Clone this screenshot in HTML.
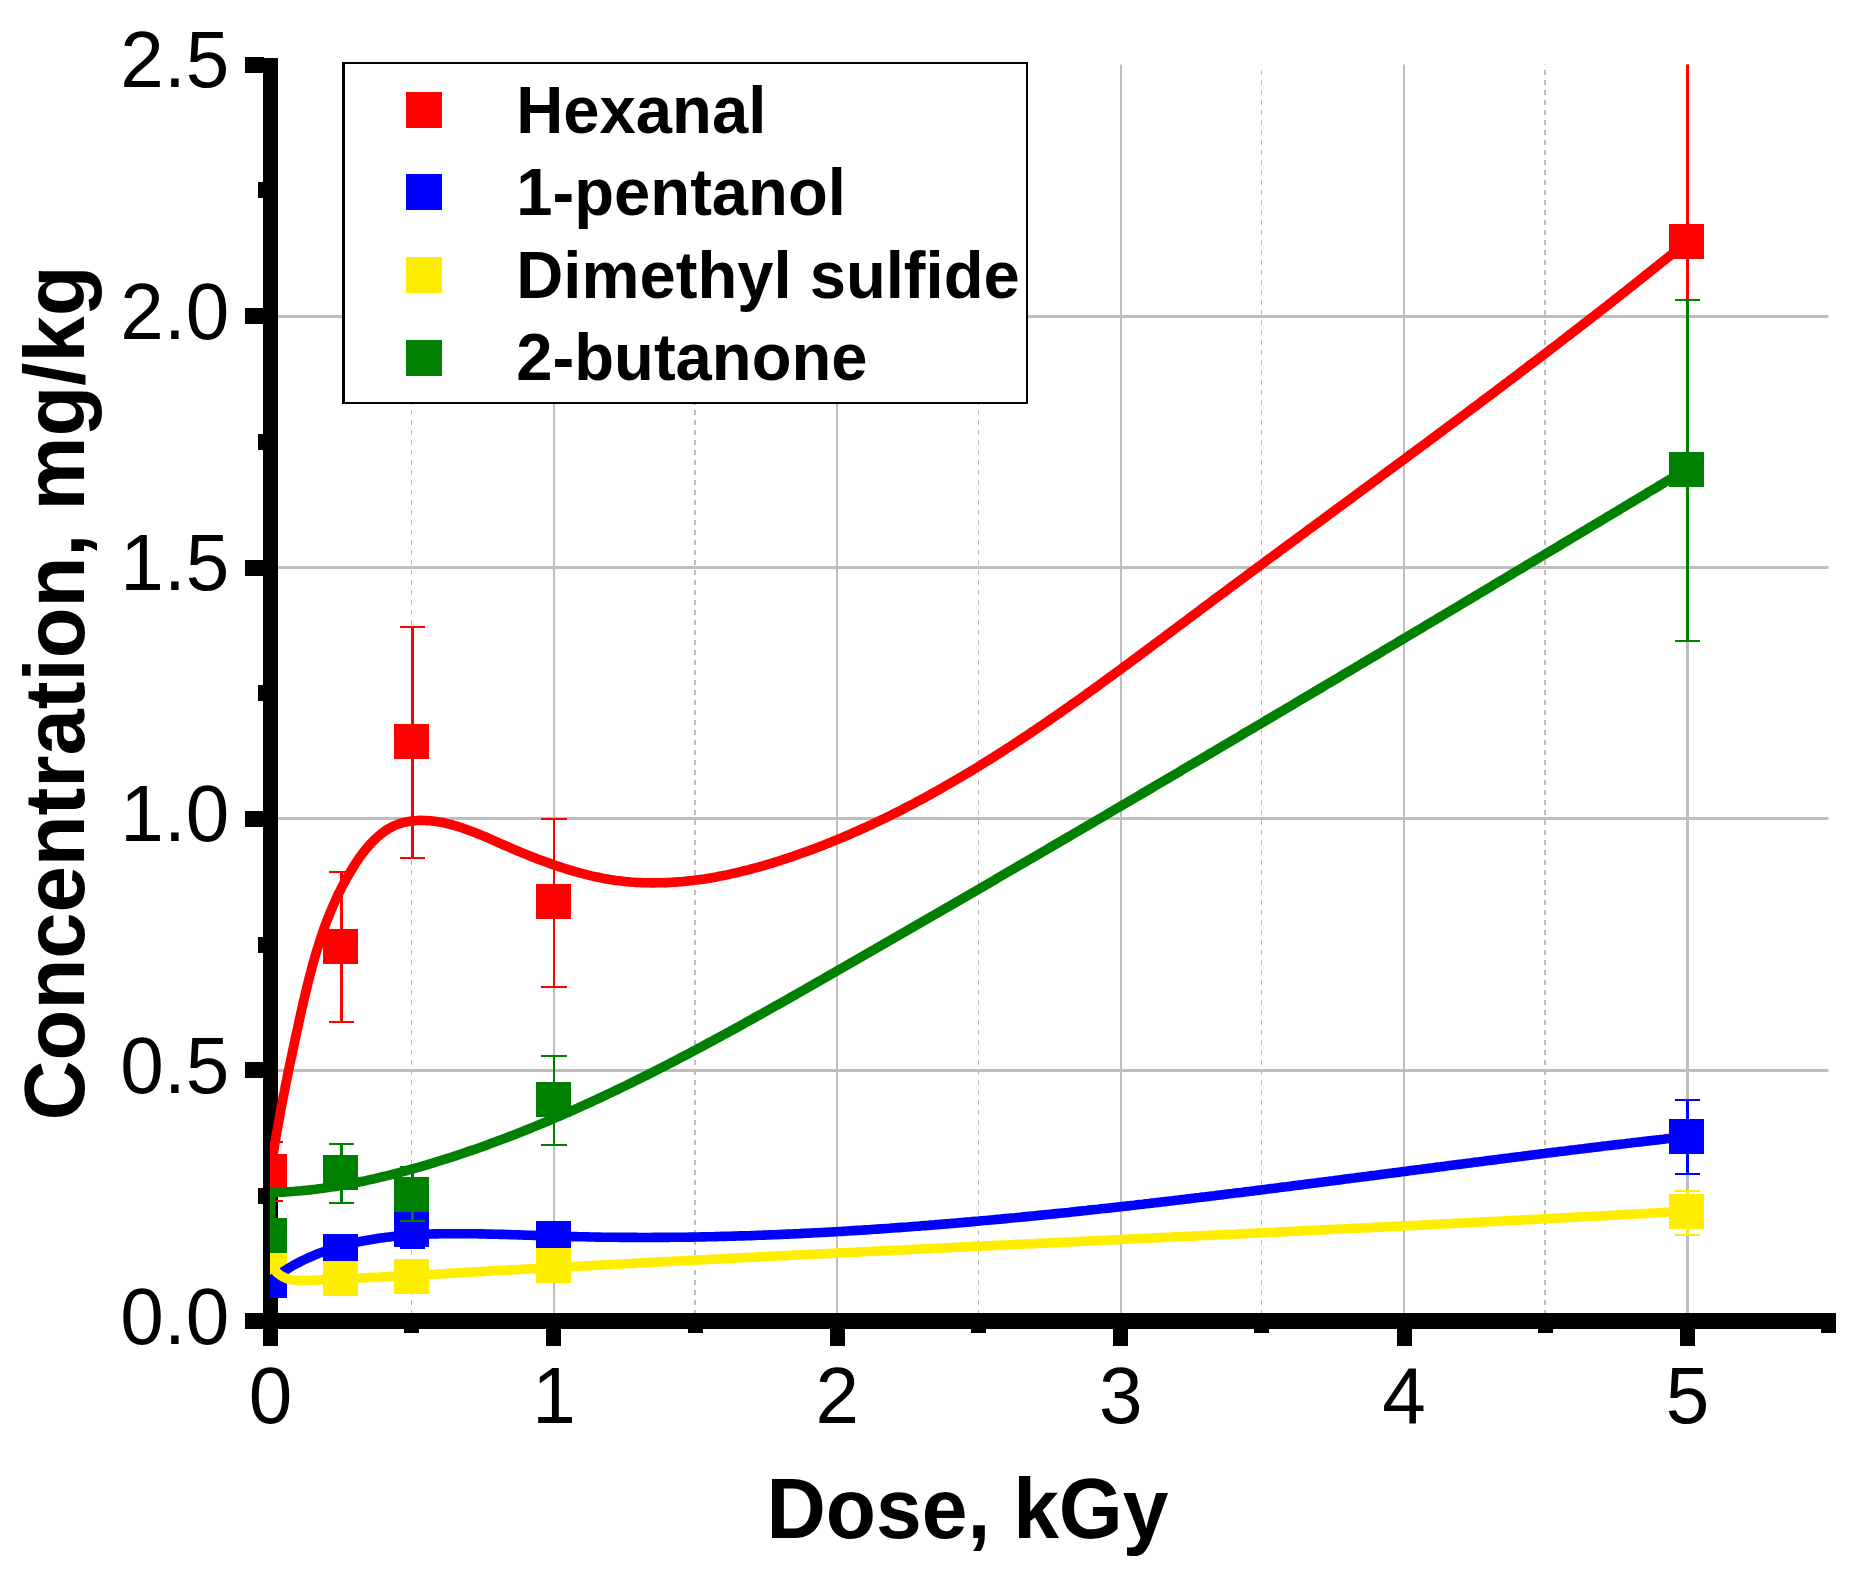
<!DOCTYPE html>
<html><head><meta charset="utf-8"><title>Concentration vs Dose</title>
<style>html,body{margin:0;padding:0;background:#fff;}body{width:1866px;height:1586px;overflow:hidden;}svg{display:block;}</style>
</head><body>
<svg width="1866" height="1586" viewBox="0 0 1866 1586">
<rect width="1866" height="1586" fill="#fff"/>
<defs><clipPath id="plot"><rect x="270" y="64.5" width="1566" height="1262"/></clipPath><clipPath id="gridclip"><rect x="270" y="64.5" width="1558.5" height="1250"/></clipPath></defs>
<g clip-path="url(#gridclip)" fill="#bebebe" shape-rendering="crispEdges">
<rect x="270" y="1068.7" width="1558.5" height="3"/>
<rect x="270" y="817.3" width="1558.5" height="3"/>
<rect x="270" y="566.0" width="1558.5" height="3"/>
<rect x="270" y="314.6" width="1558.5" height="3"/>
<rect x="552.8" y="64" width="2.2" height="1250"/>
<rect x="836.2" y="64" width="2.2" height="1250"/>
<rect x="1119.6" y="64" width="2.2" height="1250"/>
<rect x="1403.0" y="64" width="2.2" height="1250"/>
<rect x="1686.4" y="64" width="2.2" height="1250"/>
</g>
<g clip-path="url(#gridclip)" stroke="#bebebe" shape-rendering="crispEdges" fill="none">
<line x1="411.5" x2="411.5" y1="60" y2="1314" stroke-width="1" stroke-dasharray="5 5"/>
<line x1="695" x2="695" y1="60" y2="1314" stroke-width="2" stroke-dasharray="5 5"/>
<line x1="978.5" x2="978.5" y1="60" y2="1314" stroke-width="1" stroke-dasharray="5 5"/>
<line x1="1261.5" x2="1261.5" y1="60" y2="1314" stroke-width="1" stroke-dasharray="5 5"/>
<line x1="1545" x2="1545" y1="60" y2="1314" stroke-width="2" stroke-dasharray="5 5"/>
</g>
<g fill="#000" shape-rendering="crispEdges">
<rect x="263" y="58" width="15" height="1271"/>
<rect x="245" y="1313" width="1591" height="15.8"/>
<rect x="245" y="1062.2" width="19" height="16"/>
<rect x="245" y="810.8" width="19" height="16"/>
<rect x="245" y="559.5" width="19" height="16"/>
<rect x="245" y="308.1" width="19" height="16"/>
<rect x="245" y="56.8" width="19" height="16"/>
<rect x="258" y="1187.8" width="6" height="16"/>
<rect x="258" y="936.5" width="6" height="16"/>
<rect x="258" y="685.1" width="6" height="16"/>
<rect x="258" y="433.8" width="6" height="16"/>
<rect x="258" y="182.4" width="6" height="16"/>
<rect x="263.0" y="1328" width="15" height="17.7"/>
<rect x="546.4" y="1328" width="15" height="17.7"/>
<rect x="829.8" y="1328" width="15" height="17.7"/>
<rect x="1113.2" y="1328" width="15" height="17.7"/>
<rect x="1396.6" y="1328" width="15" height="17.7"/>
<rect x="1680.0" y="1328" width="15" height="17.7"/>
<rect x="404.2" y="1328" width="15" height="4.7"/>
<rect x="687.6" y="1328" width="15" height="4.7"/>
<rect x="971.0" y="1328" width="15" height="4.7"/>
<rect x="1254.4" y="1328" width="15" height="4.7"/>
<rect x="1537.8" y="1328" width="15" height="4.7"/>
<rect x="1821.0" y="1328" width="15" height="4.7"/>
</g>
<g clip-path="url(#plot)">
<g fill="#ff0000" stroke="none" shape-rendering="crispEdges">
<rect x="269.2" y="1142.2" width="2.6" height="58.8"/>
<rect x="257.8" y="1141.2" width="25.4" height="2"/>
<rect x="257.8" y="1200.0" width="25.4" height="2"/>
<rect x="340.1" y="872.0" width="2.6" height="150.0"/>
<rect x="328.7" y="871.0" width="25.4" height="2"/>
<rect x="328.7" y="1021.0" width="25.4" height="2"/>
<rect x="410.9" y="626.6" width="2.6" height="231.1"/>
<rect x="399.5" y="625.6" width="25.4" height="2"/>
<rect x="399.5" y="856.7" width="25.4" height="2"/>
<rect x="552.6" y="819.0" width="2.6" height="167.7"/>
<rect x="541.2" y="818.0" width="25.4" height="2"/>
<rect x="541.2" y="985.7" width="25.4" height="2"/>
<rect x="1686.2" y="20.0" width="2.6" height="460.0"/>
<rect x="1674.8" y="19.0" width="25.4" height="2"/>
<rect x="1674.8" y="479.0" width="25.4" height="2"/>
<rect x="252.2" y="1154.0" width="35.0" height="35.0"/>
<rect x="323.1" y="928.9" width="35.0" height="35.0"/>
<rect x="393.9" y="723.7" width="35.0" height="35.0"/>
<rect x="535.6" y="884.3" width="35.0" height="35.0"/>
<rect x="1669.2" y="224.3" width="35.0" height="35.0"/>
</g>
<g fill="#0000ff" stroke="none" shape-rendering="crispEdges">
<rect x="410.9" y="1211.0" width="2.6" height="37.3"/>
<rect x="399.5" y="1210.0" width="25.4" height="2"/>
<rect x="399.5" y="1247.3" width="25.4" height="2"/>
<rect x="1686.2" y="1100.0" width="2.6" height="74.0"/>
<rect x="1674.8" y="1099.0" width="25.4" height="2"/>
<rect x="1674.8" y="1173.0" width="25.4" height="2"/>
<rect x="252.2" y="1263.2" width="35.0" height="35.0"/>
<rect x="323.1" y="1233.5" width="35.0" height="35.0"/>
<rect x="393.9" y="1212.0" width="35.0" height="35.0"/>
<rect x="535.6" y="1220.9" width="35.0" height="35.0"/>
<rect x="1669.2" y="1119.0" width="35.0" height="35.0"/>
</g>
<g fill="#ffee00" stroke="none" shape-rendering="crispEdges">
<rect x="1686.2" y="1190.8" width="2.6" height="44.2"/>
<rect x="1674.8" y="1189.8" width="25.4" height="2"/>
<rect x="1674.8" y="1234.0" width="25.4" height="2"/>
<rect x="252.2" y="1240.8" width="35.0" height="35.0"/>
<rect x="323.1" y="1260.8" width="35.0" height="35.0"/>
<rect x="393.9" y="1258.5" width="35.0" height="35.0"/>
<rect x="535.6" y="1247.5" width="35.0" height="35.0"/>
<rect x="1669.2" y="1193.7" width="35.0" height="35.0"/>
</g>
<g fill="#008000" stroke="none" shape-rendering="crispEdges">
<rect x="340.1" y="1144.3" width="2.6" height="59.0"/>
<rect x="328.7" y="1143.3" width="25.4" height="2"/>
<rect x="328.7" y="1202.3" width="25.4" height="2"/>
<rect x="410.9" y="1167.0" width="2.6" height="53.8"/>
<rect x="399.5" y="1166.0" width="25.4" height="2"/>
<rect x="399.5" y="1219.8" width="25.4" height="2"/>
<rect x="552.6" y="1056.0" width="2.6" height="88.7"/>
<rect x="541.2" y="1055.0" width="25.4" height="2"/>
<rect x="541.2" y="1143.7" width="25.4" height="2"/>
<rect x="1686.2" y="299.5" width="2.6" height="341.3"/>
<rect x="1674.8" y="298.5" width="25.4" height="2"/>
<rect x="1674.8" y="639.8" width="25.4" height="2"/>
<rect x="252.2" y="1218.3" width="35.0" height="35.0"/>
<rect x="323.1" y="1155.2" width="35.0" height="35.0"/>
<rect x="393.9" y="1176.5" width="35.0" height="35.0"/>
<rect x="535.6" y="1082.3" width="35.0" height="35.0"/>
<rect x="1669.2" y="451.5" width="35.0" height="35.0"/>
</g>
<path d="M270.5,1171.5 L270.9,1168.5 L271.4,1165.6 L271.8,1162.6 L272.3,1159.7 L272.7,1156.7 L273.2,1153.8 L273.7,1150.8 L274.2,1147.8 L274.6,1144.9 L275.1,1141.9 L275.6,1139.0 L276.1,1136.0 L276.6,1133.1 L277.2,1130.1 L277.7,1127.2 L278.2,1124.3 L278.7,1121.3 L279.3,1118.4 L279.8,1115.4 L280.3,1112.5 L280.9,1109.5 L281.4,1106.6 L282.0,1103.6 L282.6,1100.7 L283.1,1097.8 L283.7,1094.8 L284.3,1091.9 L284.9,1088.9 L285.4,1086.0 L286.0,1083.1 L286.6,1080.1 L287.2,1077.2 L287.8,1074.3 L288.4,1071.3 L289.0,1068.4 L289.6,1065.5 L290.2,1062.5 L290.8,1059.6 L291.5,1056.7 L292.1,1053.7 L292.7,1050.8 L293.3,1047.9 L294.0,1044.9 L294.6,1042.0 L295.2,1039.1 L295.8,1036.2 L296.5,1033.2 L297.1,1030.3 L297.8,1027.4 L298.4,1024.4 L299.0,1021.5 L299.7,1018.6 L300.3,1015.7 L301.0,1012.7 L301.6,1009.8 L302.3,1006.9 L303.0,1004.0 L303.6,1001.1 L304.3,998.1 L305.0,995.2 L305.7,992.3 L306.4,989.4 L307.1,986.5 L307.8,983.6 L308.5,980.7 L309.3,977.8 L310.0,974.9 L310.8,972.0 L311.5,969.1 L312.3,966.2 L313.1,963.3 L313.9,960.5 L314.7,957.6 L315.6,954.7 L316.4,951.9 L317.3,949.0 L318.2,946.1 L319.1,943.3 L320.0,940.5 L320.9,937.6 L321.9,934.8 L322.8,932.0 L323.8,929.1 L324.8,926.3 L325.9,923.5 L326.9,920.7 L328.0,917.9 L329.1,915.2 L330.3,912.4 L331.4,909.6 L332.6,906.9 L333.8,904.1 L335.0,901.4 L336.3,898.6 L337.5,895.9 L338.8,893.2 L340.2,890.5 L341.5,887.8 L342.9,885.1 L344.4,882.4 L345.8,879.7 L347.3,877.1 L348.8,874.4 L350.4,871.8 L352.0,869.2 L353.6,866.5 L355.2,863.9 L356.9,861.4 L358.6,858.8 L360.4,856.3 L362.2,853.8 L364.1,851.4 L365.9,849.1 L367.9,846.7 L369.9,844.5 L371.9,842.3 L374.0,840.2 L376.1,838.2 L378.3,836.2 L380.5,834.4 L382.8,832.6 L385.1,830.9 L387.5,829.4 L390.0,827.9 L392.5,826.6 L395.1,825.4 L397.7,824.3 L400.4,823.4 L403.2,822.6 L406.0,821.9 L408.9,821.4 L411.8,821.0 L414.7,820.7 L417.7,820.5 L420.8,820.4 L423.8,820.5 L426.8,820.6 L429.9,820.8 L432.9,821.1 L436.0,821.5 L439.0,822.0 L442.0,822.5 L445.0,823.1 L447.9,823.8 L450.8,824.5 L453.7,825.3 L456.6,826.1 L459.4,827.0 L462.3,827.9 L465.1,828.9 L467.9,829.9 L470.7,830.9 L473.5,832.0 L476.3,833.1 L479.0,834.2 L481.8,835.4 L484.6,836.5 L487.3,837.7 L490.1,838.9 L492.8,840.1 L495.6,841.3 L498.3,842.6 L501.1,843.8 L503.9,845.0 L506.6,846.2 L509.4,847.4 L512.2,848.6 L515.0,849.8 L517.8,851.0 L520.6,852.1 L523.4,853.3 L526.2,854.4 L529.1,855.6 L531.9,856.7 L534.7,857.8 L537.6,858.9 L540.4,860.0 L543.3,861.1 L546.1,862.1 L549.0,863.1 L551.9,864.2 L554.7,865.2 L557.6,866.1 L560.5,867.1 L563.4,868.0 L566.3,869.0 L569.2,869.8 L572.1,870.7 L575.0,871.6 L577.9,872.4 L580.8,873.2 L583.7,873.9 L586.6,874.7 L589.5,875.4 L592.4,876.1 L595.3,876.7 L598.3,877.3 L601.2,877.9 L604.1,878.5 L607.1,879.0 L610.0,879.5 L612.9,879.9 L615.9,880.4 L618.8,880.7 L621.8,881.1 L624.7,881.4 L627.7,881.7 L630.6,882.0 L633.6,882.2 L636.5,882.4 L639.5,882.5 L642.4,882.7 L645.4,882.8 L648.3,882.8 L651.3,882.9 L654.2,882.9 L657.2,882.8 L660.2,882.8 L663.1,882.7 L666.1,882.6 L669.0,882.5 L672.0,882.3 L675.0,882.1 L677.9,881.9 L680.9,881.7 L683.8,881.4 L686.8,881.1 L689.7,880.8 L692.7,880.5 L695.6,880.1 L698.6,879.7 L701.5,879.3 L704.5,878.9 L707.4,878.4 L710.4,877.9 L713.3,877.4 L716.3,876.9 L719.2,876.3 L722.1,875.8 L725.1,875.2 L728.0,874.6 L730.9,873.9 L733.9,873.3 L736.8,872.6 L739.7,871.9 L742.6,871.2 L745.6,870.5 L748.5,869.8 L751.4,869.0 L754.3,868.2 L757.2,867.5 L760.1,866.6 L763.0,865.8 L765.9,865.0 L768.8,864.1 L771.6,863.3 L774.5,862.4 L777.4,861.5 L780.3,860.6 L783.1,859.6 L786.0,858.7 L788.8,857.7 L791.7,856.8 L794.5,855.8 L797.4,854.8 L800.2,853.8 L803.0,852.8 L805.9,851.8 L808.7,850.8 L811.5,849.7 L814.3,848.7 L817.1,847.6 L819.9,846.5 L822.7,845.5 L825.5,844.4 L828.3,843.3 L831.0,842.1 L833.8,841.0 L836.6,839.9 L839.3,838.7 L842.1,837.6 L844.9,836.4 L847.6,835.3 L850.3,834.1 L853.1,832.9 L855.8,831.7 L858.5,830.5 L861.3,829.2 L864.0,828.0 L866.7,826.8 L869.4,825.5 L872.1,824.3 L874.8,823.0 L877.5,821.7 L880.2,820.4 L882.9,819.2 L885.6,817.9 L888.2,816.5 L890.9,815.2 L893.6,813.9 L896.2,812.6 L898.9,811.2 L901.6,809.9 L904.2,808.5 L906.9,807.1 L909.5,805.8 L912.1,804.4 L914.8,803.0 L917.4,801.6 L920.0,800.2 L922.7,798.8 L925.3,797.4 L927.9,795.9 L930.5,794.5 L933.1,793.0 L935.7,791.6 L938.3,790.1 L940.9,788.7 L943.5,787.2 L946.1,785.7 L948.7,784.2 L951.3,782.7 L953.8,781.2 L956.4,779.7 L959.0,778.2 L961.6,776.7 L964.1,775.2 L966.7,773.6 L969.3,772.1 L971.8,770.6 L974.4,769.0 L976.9,767.5 L979.5,765.9 L982.0,764.3 L984.5,762.7 L987.1,761.2 L989.6,759.6 L992.1,758.0 L994.7,756.4 L997.2,754.8 L999.7,753.2 L1002.2,751.6 L1004.8,749.9 L1007.3,748.3 L1009.8,746.7 L1012.3,745.1 L1014.8,743.4 L1017.3,741.8 L1019.8,740.1 L1022.3,738.5 L1024.8,736.8 L1027.3,735.2 L1029.8,733.5 L1032.3,731.8 L1034.8,730.1 L1037.2,728.5 L1039.7,726.8 L1042.2,725.1 L1044.7,723.4 L1047.2,721.7 L1049.6,720.0 L1052.1,718.3 L1054.6,716.6 L1057.0,714.9 L1059.5,713.2 L1062.0,711.4 L1064.4,709.7 L1066.9,708.0 L1069.3,706.3 L1071.8,704.5 L1074.3,702.8 L1076.7,701.1 L1079.2,699.3 L1081.6,697.6 L1084.1,695.8 L1086.5,694.1 L1088.9,692.3 L1091.4,690.6 L1093.8,688.8 L1096.3,687.0 L1098.7,685.3 L1101.1,683.5 L1103.6,681.7 L1106.0,680.0 L1108.4,678.2 L1110.9,676.4 L1113.3,674.6 L1115.7,672.9 L1118.2,671.1 L1120.6,669.3 L1123.0,667.5 L1125.4,665.7 L1127.9,664.0 L1130.3,662.2 L1132.7,660.4 L1135.1,658.6 L1137.5,656.8 L1140.0,655.0 L1142.4,653.2 L1144.8,651.4 L1147.2,649.6 L1149.6,647.8 L1152.0,646.0 L1154.4,644.2 L1156.9,642.4 L1159.3,640.6 L1161.7,638.8 L1164.1,637.0 L1166.5,635.2 L1168.9,633.4 L1171.3,631.6 L1173.7,629.8 L1176.1,628.0 L1178.6,626.2 L1181.0,624.4 L1183.4,622.6 L1185.8,620.8 L1188.2,619.0 L1190.6,617.2 L1193.0,615.4 L1195.4,613.6 L1197.8,611.8 L1200.2,610.0 L1202.6,608.2 L1205.0,606.4 L1207.5,604.6 L1209.9,602.8 L1212.3,601.0 L1214.7,599.2 L1217.1,597.4 L1219.5,595.6 L1221.9,593.8 L1224.3,592.1 L1226.7,590.3 L1229.1,588.5 L1231.5,586.7 L1234.0,584.9 L1236.4,583.1 L1238.8,581.3 L1241.2,579.5 L1243.6,577.8 L1246.0,576.0 L1248.4,574.2 L1250.8,572.4 L1253.2,570.6 L1255.6,568.8 L1258.1,567.0 L1260.5,565.3 L1262.9,563.5 L1265.3,561.7 L1267.7,559.9 L1270.1,558.1 L1272.5,556.4 L1274.9,554.6 L1277.3,552.8 L1279.7,551.0 L1282.1,549.2 L1284.6,547.5 L1287.0,545.7 L1289.4,543.9 L1291.8,542.1 L1294.2,540.4 L1296.6,538.6 L1299.0,536.8 L1301.4,535.0 L1303.8,533.3 L1306.2,531.5 L1308.6,529.7 L1311.0,527.9 L1313.5,526.2 L1315.9,524.4 L1318.3,522.6 L1320.7,520.8 L1323.1,519.1 L1325.5,517.3 L1327.9,515.5 L1330.3,513.7 L1332.7,512.0 L1335.1,510.2 L1337.5,508.4 L1339.9,506.7 L1342.3,504.9 L1344.7,503.1 L1347.2,501.3 L1349.6,499.6 L1352.0,497.8 L1354.4,496.0 L1356.8,494.2 L1359.2,492.5 L1361.6,490.7 L1364.0,488.9 L1366.4,487.2 L1368.8,485.4 L1371.2,483.6 L1373.6,481.8 L1376.0,480.1 L1378.4,478.3 L1380.8,476.5 L1383.2,474.7 L1385.6,473.0 L1388.0,471.2 L1390.4,469.4 L1392.8,467.6 L1395.2,465.9 L1397.6,464.1 L1400.0,462.3 L1402.4,460.5 L1404.8,458.8 L1407.2,457.0 L1409.6,455.2 L1412.0,453.4 L1414.4,451.7 L1416.8,449.9 L1419.2,448.1 L1421.6,446.3 L1424.0,444.6 L1426.4,442.8 L1428.8,441.0 L1431.2,439.2 L1433.6,437.4 L1436.0,435.7 L1438.4,433.9 L1440.8,432.1 L1443.2,430.3 L1445.6,428.5 L1448.0,426.7 L1450.4,425.0 L1452.8,423.2 L1455.2,421.4 L1457.6,419.6 L1460.0,417.8 L1462.3,416.0 L1464.7,414.3 L1467.1,412.5 L1469.5,410.7 L1471.9,408.9 L1474.3,407.1 L1476.7,405.3 L1479.1,403.5 L1481.5,401.7 L1483.9,399.9 L1486.2,398.1 L1488.6,396.4 L1491.0,394.6 L1493.4,392.8 L1495.8,391.0 L1498.2,389.2 L1500.6,387.4 L1503.0,385.6 L1505.3,383.8 L1507.7,382.0 L1510.1,380.2 L1512.5,378.4 L1514.9,376.6 L1517.3,374.8 L1519.6,373.0 L1522.0,371.2 L1524.4,369.4 L1526.8,367.5 L1529.2,365.7 L1531.5,363.9 L1533.9,362.1 L1536.3,360.3 L1538.7,358.5 L1541.0,356.7 L1543.4,354.9 L1545.8,353.1 L1548.2,351.2 L1550.5,349.4 L1552.9,347.6 L1555.3,345.8 L1557.7,344.0 L1560.0,342.2 L1562.4,340.3 L1564.8,338.5 L1567.2,336.7 L1569.5,334.9 L1571.9,333.0 L1574.3,331.2 L1576.6,329.4 L1579.0,327.5 L1581.4,325.7 L1583.7,323.9 L1586.1,322.0 L1588.5,320.2 L1590.8,318.4 L1593.2,316.5 L1595.6,314.7 L1597.9,312.9 L1600.3,311.0 L1602.6,309.2 L1605.0,307.3 L1607.4,305.5 L1609.7,303.6 L1612.1,301.8 L1614.4,299.9 L1616.8,298.1 L1619.2,296.2 L1621.5,294.4 L1623.9,292.5 L1626.2,290.7 L1628.6,288.8 L1630.9,286.9 L1633.3,285.1 L1635.6,283.2 L1638.0,281.3 L1640.3,279.5 L1642.7,277.6 L1645.0,275.7 L1647.4,273.9 L1649.7,272.0 L1652.1,270.1 L1654.4,268.2 L1656.8,266.4 L1659.1,264.5 L1661.5,262.6 L1663.8,260.7 L1666.2,258.8 L1668.5,257.0 L1670.8,255.1 L1673.2,253.2 L1675.5,251.3 L1677.9,249.4 L1680.2,247.5 L1682.5,245.6 L1684.9,243.7 L1687.2,241.8" fill="none" stroke="#ff0000" stroke-width="9.6" stroke-linejoin="round" stroke-linecap="butt"/>
<path d="M270.5,1280.7 L272.9,1278.8 L275.4,1277.0 L277.9,1275.2 L280.4,1273.5 L282.9,1271.8 L285.4,1270.2 L288.0,1268.6 L290.6,1267.0 L293.1,1265.5 L295.8,1264.1 L298.4,1262.7 L301.0,1261.3 L303.7,1260.0 L306.4,1258.7 L309.1,1257.5 L311.8,1256.3 L314.5,1255.1 L317.3,1254.0 L320.0,1252.9 L322.8,1251.9 L325.6,1250.9 L328.4,1249.9 L331.2,1249.0 L334.0,1248.1 L336.8,1247.2 L339.7,1246.4 L342.5,1245.6 L345.4,1244.9 L348.3,1244.1 L351.2,1243.4 L354.1,1242.8 L357.0,1242.1 L359.9,1241.5 L362.8,1241.0 L365.7,1240.4 L368.7,1239.9 L371.6,1239.4 L374.5,1238.9 L377.5,1238.5 L380.5,1238.1 L383.4,1237.7 L386.4,1237.3 L389.4,1236.9 L392.3,1236.6 L395.3,1236.3 L398.3,1236.0 L401.3,1235.7 L404.3,1235.5 L407.3,1235.3 L410.3,1235.0 L413.3,1234.9 L416.3,1234.7 L419.3,1234.5 L422.3,1234.4 L425.3,1234.2 L428.3,1234.1 L431.3,1234.0 L434.3,1233.9 L437.3,1233.9 L440.3,1233.8 L443.4,1233.8 L446.4,1233.7 L449.4,1233.7 L452.4,1233.7 L455.4,1233.7 L458.4,1233.7 L461.4,1233.7 L464.5,1233.7 L467.5,1233.7 L470.5,1233.8 L473.5,1233.8 L476.5,1233.8 L479.5,1233.9 L482.5,1233.9 L485.5,1234.0 L488.5,1234.1 L491.6,1234.1 L494.6,1234.2 L497.6,1234.3 L500.6,1234.4 L503.6,1234.4 L506.6,1234.5 L509.6,1234.6 L512.6,1234.7 L515.6,1234.8 L518.6,1234.9 L521.6,1235.0 L524.6,1235.1 L527.6,1235.2 L530.6,1235.3 L533.6,1235.4 L536.6,1235.5 L539.6,1235.6 L542.6,1235.7 L545.6,1235.8 L548.6,1235.9 L551.5,1236.0 L554.5,1236.1 L557.5,1236.1 L560.5,1236.2 L563.5,1236.3 L566.5,1236.4 L569.5,1236.5 L572.5,1236.6 L575.5,1236.6 L578.5,1236.7 L581.5,1236.8 L584.5,1236.8 L587.5,1236.9 L590.5,1237.0 L593.5,1237.0 L596.5,1237.1 L599.5,1237.1 L602.4,1237.2 L605.4,1237.2 L608.4,1237.2 L611.4,1237.3 L614.4,1237.3 L617.4,1237.3 L620.4,1237.4 L623.4,1237.4 L626.4,1237.4 L629.4,1237.4 L632.4,1237.4 L635.4,1237.4 L638.4,1237.5 L641.3,1237.5 L644.3,1237.5 L647.3,1237.5 L650.3,1237.5 L653.3,1237.4 L656.3,1237.4 L659.3,1237.4 L662.3,1237.4 L665.3,1237.4 L668.3,1237.4 L671.3,1237.3 L674.3,1237.3 L677.2,1237.3 L680.2,1237.2 L683.2,1237.2 L686.2,1237.2 L689.2,1237.1 L692.2,1237.1 L695.2,1237.0 L698.2,1237.0 L701.2,1236.9 L704.2,1236.9 L707.2,1236.8 L710.1,1236.7 L713.1,1236.7 L716.1,1236.6 L719.1,1236.5 L722.1,1236.4 L725.1,1236.4 L728.1,1236.3 L731.1,1236.2 L734.1,1236.1 L737.1,1236.0 L740.0,1235.9 L743.0,1235.9 L746.0,1235.8 L749.0,1235.7 L752.0,1235.6 L755.0,1235.5 L758.0,1235.3 L761.0,1235.2 L764.0,1235.1 L766.9,1235.0 L769.9,1234.9 L772.9,1234.8 L775.9,1234.7 L778.9,1234.5 L781.9,1234.4 L784.9,1234.3 L787.9,1234.1 L790.9,1234.0 L793.8,1233.9 L796.8,1233.7 L799.8,1233.6 L802.8,1233.4 L805.8,1233.3 L808.8,1233.1 L811.8,1233.0 L814.8,1232.8 L817.7,1232.7 L820.7,1232.5 L823.7,1232.4 L826.7,1232.2 L829.7,1232.0 L832.7,1231.9 L835.7,1231.7 L838.7,1231.5 L841.6,1231.4 L844.6,1231.2 L847.6,1231.0 L850.6,1230.8 L853.6,1230.6 L856.6,1230.4 L859.6,1230.3 L862.6,1230.1 L865.5,1229.9 L868.5,1229.7 L871.5,1229.5 L874.5,1229.3 L877.5,1229.1 L880.5,1228.9 L883.5,1228.7 L886.4,1228.5 L889.4,1228.3 L892.4,1228.0 L895.4,1227.8 L898.4,1227.6 L901.4,1227.4 L904.4,1227.2 L907.3,1227.0 L910.3,1226.7 L913.3,1226.5 L916.3,1226.3 L919.3,1226.1 L922.3,1225.8 L925.2,1225.6 L928.2,1225.4 L931.2,1225.1 L934.2,1224.9 L937.2,1224.6 L940.2,1224.4 L943.2,1224.1 L946.1,1223.9 L949.1,1223.7 L952.1,1223.4 L955.1,1223.2 L958.1,1222.9 L961.1,1222.6 L964.0,1222.4 L967.0,1222.1 L970.0,1221.9 L973.0,1221.6 L976.0,1221.3 L979.0,1221.1 L981.9,1220.8 L984.9,1220.5 L987.9,1220.3 L990.9,1220.0 L993.9,1219.7 L996.9,1219.4 L999.8,1219.2 L1002.8,1218.9 L1005.8,1218.6 L1008.8,1218.3 L1011.8,1218.0 L1014.8,1217.8 L1017.7,1217.5 L1020.7,1217.2 L1023.7,1216.9 L1026.7,1216.6 L1029.7,1216.3 L1032.7,1216.0 L1035.6,1215.7 L1038.6,1215.4 L1041.6,1215.1 L1044.6,1214.8 L1047.6,1214.5 L1050.5,1214.2 L1053.5,1213.9 L1056.5,1213.6 L1059.5,1213.3 L1062.5,1213.0 L1065.5,1212.7 L1068.4,1212.4 L1071.4,1212.0 L1074.4,1211.7 L1077.4,1211.4 L1080.4,1211.1 L1083.3,1210.8 L1086.3,1210.5 L1089.3,1210.1 L1092.3,1209.8 L1095.3,1209.5 L1098.2,1209.2 L1101.2,1208.8 L1104.2,1208.5 L1107.2,1208.2 L1110.2,1207.9 L1113.2,1207.5 L1116.1,1207.2 L1119.1,1206.9 L1122.1,1206.5 L1125.1,1206.2 L1128.1,1205.9 L1131.0,1205.5 L1134.0,1205.2 L1137.0,1204.8 L1140.0,1204.5 L1143.0,1204.2 L1145.9,1203.8 L1148.9,1203.5 L1151.9,1203.1 L1154.9,1202.8 L1157.8,1202.4 L1160.8,1202.1 L1163.8,1201.7 L1166.8,1201.4 L1169.8,1201.0 L1172.7,1200.7 L1175.7,1200.3 L1178.7,1200.0 L1181.7,1199.6 L1184.7,1199.3 L1187.6,1198.9 L1190.6,1198.6 L1193.6,1198.2 L1196.6,1197.8 L1199.6,1197.5 L1202.5,1197.1 L1205.5,1196.8 L1208.5,1196.4 L1211.5,1196.0 L1214.4,1195.7 L1217.4,1195.3 L1220.4,1194.9 L1223.4,1194.6 L1226.4,1194.2 L1229.3,1193.8 L1232.3,1193.5 L1235.3,1193.1 L1238.3,1192.7 L1241.2,1192.4 L1244.2,1192.0 L1247.2,1191.6 L1250.2,1191.3 L1253.2,1190.9 L1256.1,1190.5 L1259.1,1190.1 L1262.1,1189.8 L1265.1,1189.4 L1268.0,1189.0 L1271.0,1188.6 L1274.0,1188.3 L1277.0,1187.9 L1279.9,1187.5 L1282.9,1187.1 L1285.9,1186.8 L1288.9,1186.4 L1291.9,1186.0 L1294.8,1185.6 L1297.8,1185.2 L1300.8,1184.9 L1303.8,1184.5 L1306.7,1184.1 L1309.7,1183.7 L1312.7,1183.3 L1315.7,1183.0 L1318.6,1182.6 L1321.6,1182.2 L1324.6,1181.8 L1327.6,1181.4 L1330.5,1181.0 L1333.5,1180.7 L1336.5,1180.3 L1339.5,1179.9 L1342.4,1179.5 L1345.4,1179.1 L1348.4,1178.7 L1351.4,1178.3 L1354.3,1178.0 L1357.3,1177.6 L1360.3,1177.2 L1363.3,1176.8 L1366.2,1176.4 L1369.2,1176.0 L1372.2,1175.6 L1375.2,1175.3 L1378.1,1174.9 L1381.1,1174.5 L1384.1,1174.1 L1387.1,1173.7 L1390.0,1173.3 L1393.0,1172.9 L1396.0,1172.6 L1399.0,1172.2 L1401.9,1171.8 L1404.9,1171.4 L1407.9,1171.0 L1410.9,1170.6 L1413.8,1170.2 L1416.8,1169.8 L1419.8,1169.5 L1422.8,1169.1 L1425.7,1168.7 L1428.7,1168.3 L1431.7,1167.9 L1434.7,1167.5 L1437.6,1167.1 L1440.6,1166.8 L1443.6,1166.4 L1446.5,1166.0 L1449.5,1165.6 L1452.5,1165.2 L1455.5,1164.8 L1458.4,1164.4 L1461.4,1164.1 L1464.4,1163.7 L1467.4,1163.3 L1470.3,1162.9 L1473.3,1162.5 L1476.3,1162.1 L1479.3,1161.8 L1482.2,1161.4 L1485.2,1161.0 L1488.2,1160.6 L1491.1,1160.2 L1494.1,1159.9 L1497.1,1159.5 L1500.1,1159.1 L1503.0,1158.7 L1506.0,1158.3 L1509.0,1158.0 L1511.9,1157.6 L1514.9,1157.2 L1517.9,1156.8 L1520.9,1156.5 L1523.8,1156.1 L1526.8,1155.7 L1529.8,1155.3 L1532.8,1154.9 L1535.7,1154.6 L1538.7,1154.2 L1541.7,1153.8 L1544.6,1153.5 L1547.6,1153.1 L1550.6,1152.7 L1553.6,1152.3 L1556.5,1152.0 L1559.5,1151.6 L1562.5,1151.2 L1565.4,1150.9 L1568.4,1150.5 L1571.4,1150.1 L1574.3,1149.8 L1577.3,1149.4 L1580.3,1149.0 L1583.3,1148.7 L1586.2,1148.3 L1589.2,1147.9 L1592.2,1147.6 L1595.1,1147.2 L1598.1,1146.9 L1601.1,1146.5 L1604.1,1146.1 L1607.0,1145.8 L1610.0,1145.4 L1613.0,1145.1 L1615.9,1144.7 L1618.9,1144.4 L1621.9,1144.0 L1624.8,1143.7 L1627.8,1143.3 L1630.8,1143.0 L1633.8,1142.6 L1636.7,1142.3 L1639.7,1141.9 L1642.7,1141.6 L1645.6,1141.2 L1648.6,1140.9 L1651.6,1140.5 L1654.5,1140.2 L1657.5,1139.9 L1660.5,1139.5 L1663.4,1139.2 L1666.4,1138.8 L1669.4,1138.5 L1672.4,1138.2 L1675.3,1137.8 L1678.3,1137.5 L1681.3,1137.2 L1684.2,1136.8 L1687.2,1136.5" fill="none" stroke="#0000ff" stroke-width="9.6" stroke-linejoin="round" stroke-linecap="butt"/>
<path d="M270.5,1258.3 L271.2,1261.9 L272.3,1265.1 L273.6,1267.9 L275.2,1270.4 L277.0,1272.6 L279.1,1274.4 L281.3,1275.9 L283.6,1277.2 L286.1,1278.3 L288.7,1279.1 L291.4,1279.7 L294.2,1280.1 L297.1,1280.4 L300.0,1280.5 L302.9,1280.5 L305.9,1280.5 L309.0,1280.4 L312.0,1280.3 L315.1,1280.1 L318.1,1280.0 L321.2,1279.9 L324.2,1279.7 L327.2,1279.6 L330.3,1279.4 L333.3,1279.3 L336.4,1279.2 L339.4,1279.0 L342.4,1278.9 L345.5,1278.7 L348.5,1278.6 L351.5,1278.4 L354.5,1278.3 L357.6,1278.1 L360.6,1278.0 L363.6,1277.8 L366.6,1277.7 L369.7,1277.5 L372.7,1277.4 L375.7,1277.2 L378.7,1277.1 L381.7,1276.9 L384.7,1276.8 L387.7,1276.6 L390.8,1276.4 L393.8,1276.3 L396.8,1276.1 L399.8,1276.0 L402.8,1275.8 L405.8,1275.7 L408.8,1275.5 L411.8,1275.3 L414.8,1275.2 L417.8,1275.0 L420.8,1274.9 L423.8,1274.7 L426.8,1274.5 L429.8,1274.4 L432.8,1274.2 L435.8,1274.1 L438.8,1273.9 L441.8,1273.7 L444.8,1273.6 L447.8,1273.4 L450.8,1273.2 L453.8,1273.1 L456.7,1272.9 L459.7,1272.7 L462.7,1272.6 L465.7,1272.4 L468.7,1272.3 L471.7,1272.1 L474.7,1271.9 L477.7,1271.8 L480.7,1271.6 L483.6,1271.4 L486.6,1271.3 L489.6,1271.1 L492.6,1270.9 L495.6,1270.8 L498.6,1270.6 L501.6,1270.4 L504.5,1270.3 L507.5,1270.1 L510.5,1269.9 L513.5,1269.8 L516.5,1269.6 L519.5,1269.5 L522.5,1269.3 L525.4,1269.1 L528.4,1269.0 L531.4,1268.8 L534.4,1268.6 L537.4,1268.5 L540.4,1268.3 L543.4,1268.1 L546.3,1268.0 L549.3,1267.8 L552.3,1267.7 L555.3,1267.5 L558.3,1267.3 L561.3,1267.2 L564.3,1267.0 L567.2,1266.8 L570.2,1266.7 L573.2,1266.5 L576.2,1266.4 L579.2,1266.2 L582.2,1266.0 L585.2,1265.9 L588.2,1265.7 L591.1,1265.6 L594.1,1265.4 L597.1,1265.2 L600.1,1265.1 L603.1,1264.9 L606.1,1264.8 L609.1,1264.6 L612.1,1264.5 L615.0,1264.3 L618.0,1264.1 L621.0,1264.0 L624.0,1263.8 L627.0,1263.7 L630.0,1263.5 L633.0,1263.4 L636.0,1263.2 L639.0,1263.0 L641.9,1262.9 L644.9,1262.7 L647.9,1262.6 L650.9,1262.4 L653.9,1262.3 L656.9,1262.1 L659.9,1262.0 L662.9,1261.8 L665.9,1261.6 L668.9,1261.5 L671.8,1261.3 L674.8,1261.2 L677.8,1261.0 L680.8,1260.9 L683.8,1260.7 L686.8,1260.6 L689.8,1260.4 L692.8,1260.3 L695.8,1260.1 L698.8,1260.0 L701.8,1259.8 L704.7,1259.7 L707.7,1259.5 L710.7,1259.3 L713.7,1259.2 L716.7,1259.0 L719.7,1258.9 L722.7,1258.7 L725.7,1258.6 L728.7,1258.4 L731.7,1258.3 L734.7,1258.1 L737.7,1258.0 L740.7,1257.8 L743.6,1257.7 L746.6,1257.5 L749.6,1257.4 L752.6,1257.2 L755.6,1257.1 L758.6,1256.9 L761.6,1256.8 L764.6,1256.6 L767.6,1256.5 L770.6,1256.3 L773.6,1256.2 L776.6,1256.0 L779.6,1255.9 L782.6,1255.7 L785.6,1255.6 L788.5,1255.4 L791.5,1255.3 L794.5,1255.1 L797.5,1255.0 L800.5,1254.9 L803.5,1254.7 L806.5,1254.6 L809.5,1254.4 L812.5,1254.3 L815.5,1254.1 L818.5,1254.0 L821.5,1253.8 L824.5,1253.7 L827.5,1253.5 L830.5,1253.4 L833.5,1253.2 L836.5,1253.1 L839.5,1252.9 L842.4,1252.8 L845.4,1252.6 L848.4,1252.5 L851.4,1252.4 L854.4,1252.2 L857.4,1252.1 L860.4,1251.9 L863.4,1251.8 L866.4,1251.6 L869.4,1251.5 L872.4,1251.3 L875.4,1251.2 L878.4,1251.0 L881.4,1250.9 L884.4,1250.8 L887.4,1250.6 L890.4,1250.5 L893.4,1250.3 L896.4,1250.2 L899.4,1250.0 L902.4,1249.9 L905.4,1249.7 L908.4,1249.6 L911.4,1249.5 L914.3,1249.3 L917.3,1249.2 L920.3,1249.0 L923.3,1248.9 L926.3,1248.7 L929.3,1248.6 L932.3,1248.4 L935.3,1248.3 L938.3,1248.2 L941.3,1248.0 L944.3,1247.9 L947.3,1247.7 L950.3,1247.6 L953.3,1247.4 L956.3,1247.3 L959.3,1247.2 L962.3,1247.0 L965.3,1246.9 L968.3,1246.7 L971.3,1246.6 L974.3,1246.4 L977.3,1246.3 L980.3,1246.2 L983.3,1246.0 L986.3,1245.9 L989.3,1245.7 L992.3,1245.6 L995.3,1245.4 L998.3,1245.3 L1001.3,1245.2 L1004.3,1245.0 L1007.3,1244.9 L1010.3,1244.7 L1013.3,1244.6 L1016.3,1244.4 L1019.3,1244.3 L1022.2,1244.2 L1025.2,1244.0 L1028.2,1243.9 L1031.2,1243.7 L1034.2,1243.6 L1037.2,1243.4 L1040.2,1243.3 L1043.2,1243.2 L1046.2,1243.0 L1049.2,1242.9 L1052.2,1242.7 L1055.2,1242.6 L1058.2,1242.5 L1061.2,1242.3 L1064.2,1242.2 L1067.2,1242.0 L1070.2,1241.9 L1073.2,1241.7 L1076.2,1241.6 L1079.2,1241.5 L1082.2,1241.3 L1085.2,1241.2 L1088.2,1241.0 L1091.2,1240.9 L1094.2,1240.7 L1097.2,1240.6 L1100.2,1240.5 L1103.2,1240.3 L1106.2,1240.2 L1109.2,1240.0 L1112.2,1239.9 L1115.2,1239.8 L1118.2,1239.6 L1121.2,1239.5 L1124.2,1239.3 L1127.2,1239.2 L1130.2,1239.0 L1133.2,1238.9 L1136.2,1238.8 L1139.2,1238.6 L1142.2,1238.5 L1145.2,1238.3 L1148.2,1238.2 L1151.2,1238.1 L1154.2,1237.9 L1157.2,1237.8 L1160.2,1237.6 L1163.2,1237.5 L1166.2,1237.3 L1169.2,1237.2 L1172.2,1237.1 L1175.2,1236.9 L1178.2,1236.8 L1181.1,1236.6 L1184.1,1236.5 L1187.1,1236.3 L1190.1,1236.2 L1193.1,1236.1 L1196.1,1235.9 L1199.1,1235.8 L1202.1,1235.6 L1205.1,1235.5 L1208.1,1235.4 L1211.1,1235.2 L1214.1,1235.1 L1217.1,1234.9 L1220.1,1234.8 L1223.1,1234.6 L1226.1,1234.5 L1229.1,1234.4 L1232.1,1234.2 L1235.1,1234.1 L1238.1,1233.9 L1241.1,1233.8 L1244.1,1233.6 L1247.1,1233.5 L1250.1,1233.4 L1253.1,1233.2 L1256.1,1233.1 L1259.1,1232.9 L1262.1,1232.8 L1265.1,1232.6 L1268.1,1232.5 L1271.1,1232.3 L1274.1,1232.2 L1277.1,1232.1 L1280.1,1231.9 L1283.1,1231.8 L1286.1,1231.6 L1289.1,1231.5 L1292.1,1231.3 L1295.1,1231.2 L1298.1,1231.1 L1301.1,1230.9 L1304.1,1230.8 L1307.1,1230.6 L1310.1,1230.5 L1313.1,1230.3 L1316.0,1230.2 L1319.0,1230.0 L1322.0,1229.9 L1325.0,1229.8 L1328.0,1229.6 L1331.0,1229.5 L1334.0,1229.3 L1337.0,1229.2 L1340.0,1229.0 L1343.0,1228.9 L1346.0,1228.7 L1349.0,1228.6 L1352.0,1228.4 L1355.0,1228.3 L1358.0,1228.2 L1361.0,1228.0 L1364.0,1227.9 L1367.0,1227.7 L1370.0,1227.6 L1373.0,1227.4 L1376.0,1227.3 L1379.0,1227.1 L1382.0,1227.0 L1385.0,1226.8 L1388.0,1226.7 L1391.0,1226.5 L1394.0,1226.4 L1397.0,1226.2 L1399.9,1226.1 L1402.9,1225.9 L1405.9,1225.8 L1408.9,1225.7 L1411.9,1225.5 L1414.9,1225.4 L1417.9,1225.2 L1420.9,1225.1 L1423.9,1224.9 L1426.9,1224.8 L1429.9,1224.6 L1432.9,1224.5 L1435.9,1224.3 L1438.9,1224.2 L1441.9,1224.0 L1444.9,1223.9 L1447.9,1223.7 L1450.9,1223.6 L1453.9,1223.4 L1456.9,1223.3 L1459.9,1223.1 L1462.8,1223.0 L1465.8,1222.8 L1468.8,1222.7 L1471.8,1222.5 L1474.8,1222.4 L1477.8,1222.2 L1480.8,1222.1 L1483.8,1221.9 L1486.8,1221.8 L1489.8,1221.6 L1492.8,1221.5 L1495.8,1221.3 L1498.8,1221.2 L1501.8,1221.0 L1504.8,1220.8 L1507.8,1220.7 L1510.8,1220.5 L1513.7,1220.4 L1516.7,1220.2 L1519.7,1220.1 L1522.7,1219.9 L1525.7,1219.8 L1528.7,1219.6 L1531.7,1219.5 L1534.7,1219.3 L1537.7,1219.2 L1540.7,1219.0 L1543.7,1218.8 L1546.7,1218.7 L1549.7,1218.5 L1552.7,1218.4 L1555.6,1218.2 L1558.6,1218.1 L1561.6,1217.9 L1564.6,1217.8 L1567.6,1217.6 L1570.6,1217.5 L1573.6,1217.3 L1576.6,1217.1 L1579.6,1217.0 L1582.6,1216.8 L1585.6,1216.7 L1588.6,1216.5 L1591.5,1216.4 L1594.5,1216.2 L1597.5,1216.0 L1600.5,1215.9 L1603.5,1215.7 L1606.5,1215.6 L1609.5,1215.4 L1612.5,1215.2 L1615.5,1215.1 L1618.5,1214.9 L1621.4,1214.8 L1624.4,1214.6 L1627.4,1214.4 L1630.4,1214.3 L1633.4,1214.1 L1636.4,1214.0 L1639.4,1213.8 L1642.4,1213.6 L1645.4,1213.5 L1648.4,1213.3 L1651.3,1213.2 L1654.3,1213.0 L1657.3,1212.8 L1660.3,1212.7 L1663.3,1212.5 L1666.3,1212.3 L1669.3,1212.2 L1672.3,1212.0 L1675.2,1211.9 L1678.2,1211.7 L1681.2,1211.5 L1684.2,1211.4 L1687.2,1211.2" fill="none" stroke="#ffee00" stroke-width="9.6" stroke-linejoin="round" stroke-linecap="butt"/>
<path d="M270.5,1235.8 L271.0,1196.0 L271.0,1192.5 L274.0,1192.4 L277.0,1192.3 L280.0,1192.2 L283.0,1192.1 L286.0,1191.9 L289.0,1191.7 L292.0,1191.5 L295.0,1191.3 L298.0,1191.0 L301.0,1190.8 L304.0,1190.5 L307.0,1190.2 L310.0,1189.9 L312.9,1189.5 L315.9,1189.2 L318.9,1188.8 L321.9,1188.4 L324.8,1188.0 L327.8,1187.6 L330.8,1187.1 L333.7,1186.7 L336.7,1186.2 L339.6,1185.7 L342.6,1185.2 L345.5,1184.6 L348.5,1184.1 L351.4,1183.5 L354.4,1183.0 L357.3,1182.4 L360.2,1181.8 L363.2,1181.2 L366.1,1180.6 L369.0,1179.9 L371.9,1179.3 L374.9,1178.6 L377.8,1177.9 L380.7,1177.2 L383.6,1176.5 L386.5,1175.8 L389.4,1175.1 L392.3,1174.4 L395.2,1173.6 L398.1,1172.9 L401.0,1172.1 L403.9,1171.3 L406.8,1170.5 L409.7,1169.7 L412.5,1168.9 L415.4,1168.1 L418.3,1167.3 L421.2,1166.5 L424.0,1165.6 L426.9,1164.8 L429.8,1163.9 L432.6,1163.1 L435.5,1162.2 L438.3,1161.3 L441.2,1160.4 L444.0,1159.5 L446.9,1158.6 L449.7,1157.7 L452.6,1156.8 L455.4,1155.9 L458.2,1154.9 L461.1,1154.0 L463.9,1153.0 L466.7,1152.1 L469.5,1151.1 L472.4,1150.1 L475.2,1149.2 L478.0,1148.2 L480.8,1147.2 L483.6,1146.2 L486.4,1145.2 L489.2,1144.1 L492.0,1143.1 L494.8,1142.1 L497.6,1141.0 L500.4,1140.0 L503.2,1138.9 L506.0,1137.9 L508.8,1136.8 L511.6,1135.7 L514.4,1134.7 L517.1,1133.6 L519.9,1132.5 L522.7,1131.4 L525.5,1130.3 L528.2,1129.2 L531.0,1128.0 L533.8,1126.9 L536.5,1125.8 L539.3,1124.6 L542.0,1123.5 L544.8,1122.3 L547.5,1121.2 L550.3,1120.0 L553.0,1118.9 L555.8,1117.7 L558.5,1116.5 L561.3,1115.3 L564.0,1114.1 L566.7,1112.9 L569.5,1111.7 L572.2,1110.5 L574.9,1109.3 L577.7,1108.1 L580.4,1106.8 L583.1,1105.6 L585.9,1104.4 L588.6,1103.1 L591.3,1101.9 L594.0,1100.6 L596.7,1099.4 L599.4,1098.1 L602.2,1096.8 L604.9,1095.6 L607.6,1094.3 L610.3,1093.0 L613.0,1091.7 L615.7,1090.4 L618.4,1089.1 L621.1,1087.8 L623.8,1086.5 L626.5,1085.2 L629.2,1083.9 L631.9,1082.6 L634.5,1081.2 L637.2,1079.9 L639.9,1078.6 L642.6,1077.2 L645.3,1075.9 L648.0,1074.6 L650.6,1073.2 L653.3,1071.9 L656.0,1070.5 L658.7,1069.1 L661.4,1067.8 L664.0,1066.4 L666.7,1065.0 L669.4,1063.7 L672.0,1062.3 L674.7,1060.9 L677.4,1059.5 L680.0,1058.1 L682.7,1056.7 L685.4,1055.3 L688.0,1053.9 L690.7,1052.5 L693.3,1051.1 L696.0,1049.7 L698.6,1048.3 L701.3,1046.9 L703.9,1045.5 L706.6,1044.0 L709.2,1042.6 L711.9,1041.2 L714.5,1039.8 L717.2,1038.3 L719.8,1036.9 L722.5,1035.4 L725.1,1034.0 L727.8,1032.6 L730.4,1031.1 L733.0,1029.7 L735.7,1028.2 L738.3,1026.8 L740.9,1025.3 L743.6,1023.9 L746.2,1022.4 L748.8,1020.9 L751.5,1019.5 L754.1,1018.0 L756.7,1016.5 L759.4,1015.1 L762.0,1013.6 L764.6,1012.1 L767.3,1010.7 L769.9,1009.2 L772.5,1007.7 L775.1,1006.2 L777.8,1004.7 L780.4,1003.3 L783.0,1001.8 L785.6,1000.3 L788.2,998.8 L790.9,997.3 L793.5,995.8 L796.1,994.4 L798.7,992.9 L801.3,991.4 L804.0,989.9 L806.6,988.4 L809.2,986.9 L811.8,985.4 L814.4,983.9 L817.0,982.4 L819.6,980.9 L822.3,979.4 L824.9,977.9 L827.5,976.4 L830.1,974.9 L832.7,973.4 L835.3,971.9 L837.9,970.4 L840.5,968.9 L843.2,967.4 L845.8,965.9 L848.4,964.4 L851.0,962.9 L853.6,961.4 L856.2,959.9 L858.8,958.4 L861.4,956.9 L864.0,955.4 L866.6,953.9 L869.2,952.4 L871.8,950.9 L874.5,949.4 L877.1,947.9 L879.7,946.4 L882.3,944.9 L884.9,943.4 L887.5,941.9 L890.1,940.4 L892.7,938.9 L895.3,937.4 L897.9,935.9 L900.5,934.4 L903.1,932.9 L905.7,931.4 L908.3,929.9 L910.9,928.4 L913.5,926.9 L916.1,925.4 L918.7,923.9 L921.3,922.4 L923.9,920.9 L926.5,919.4 L929.1,917.9 L931.7,916.4 L934.3,914.9 L936.9,913.4 L939.5,911.9 L942.1,910.4 L944.7,908.9 L947.3,907.4 L949.9,905.9 L952.5,904.4 L955.1,902.9 L957.7,901.3 L960.3,899.8 L962.9,898.3 L965.5,896.8 L968.1,895.3 L970.7,893.8 L973.3,892.3 L975.9,890.8 L978.5,889.3 L981.1,887.8 L983.6,886.3 L986.2,884.8 L988.8,883.3 L991.4,881.8 L994.0,880.3 L996.6,878.7 L999.2,877.2 L1001.8,875.7 L1004.4,874.2 L1007.0,872.7 L1009.6,871.2 L1012.2,869.7 L1014.8,868.2 L1017.3,866.7 L1019.9,865.2 L1022.5,863.7 L1025.1,862.1 L1027.7,860.6 L1030.3,859.1 L1032.9,857.6 L1035.5,856.1 L1038.1,854.6 L1040.6,853.1 L1043.2,851.6 L1045.8,850.1 L1048.4,848.5 L1051.0,847.0 L1053.6,845.5 L1056.2,844.0 L1058.8,842.5 L1061.3,841.0 L1063.9,839.5 L1066.5,838.0 L1069.1,836.5 L1071.7,834.9 L1074.3,833.4 L1076.9,831.9 L1079.5,830.4 L1082.0,828.9 L1084.6,827.4 L1087.2,825.9 L1089.8,824.3 L1092.4,822.8 L1095.0,821.3 L1097.5,819.8 L1100.1,818.3 L1102.7,816.8 L1105.3,815.3 L1107.9,813.7 L1110.5,812.2 L1113.0,810.7 L1115.6,809.2 L1118.2,807.7 L1120.8,806.2 L1123.4,804.6 L1126.0,803.1 L1128.5,801.6 L1131.1,800.1 L1133.7,798.6 L1136.3,797.1 L1138.9,795.6 L1141.4,794.0 L1144.0,792.5 L1146.6,791.0 L1149.2,789.5 L1151.8,788.0 L1154.3,786.4 L1156.9,784.9 L1159.5,783.4 L1162.1,781.9 L1164.7,780.4 L1167.2,778.9 L1169.8,777.3 L1172.4,775.8 L1175.0,774.3 L1177.6,772.8 L1180.1,771.3 L1182.7,769.7 L1185.3,768.2 L1187.9,766.7 L1190.4,765.2 L1193.0,763.7 L1195.6,762.1 L1198.2,760.6 L1200.8,759.1 L1203.3,757.6 L1205.9,756.1 L1208.5,754.5 L1211.1,753.0 L1213.6,751.5 L1216.2,750.0 L1218.8,748.4 L1221.4,746.9 L1223.9,745.4 L1226.5,743.9 L1229.1,742.4 L1231.7,740.8 L1234.2,739.3 L1236.8,737.8 L1239.4,736.3 L1242.0,734.7 L1244.5,733.2 L1247.1,731.7 L1249.7,730.2 L1252.3,728.7 L1254.8,727.1 L1257.4,725.6 L1260.0,724.1 L1262.6,722.6 L1265.1,721.0 L1267.7,719.5 L1270.3,718.0 L1272.9,716.5 L1275.4,714.9 L1278.0,713.4 L1280.6,711.9 L1283.2,710.4 L1285.7,708.8 L1288.3,707.3 L1290.9,705.8 L1293.5,704.3 L1296.0,702.7 L1298.6,701.2 L1301.2,699.7 L1303.8,698.1 L1306.3,696.6 L1308.9,695.1 L1311.5,693.6 L1314.0,692.0 L1316.6,690.5 L1319.2,689.0 L1321.8,687.5 L1324.3,685.9 L1326.9,684.4 L1329.5,682.9 L1332.1,681.3 L1334.6,679.8 L1337.2,678.3 L1339.8,676.8 L1342.3,675.2 L1344.9,673.7 L1347.5,672.2 L1350.1,670.6 L1352.6,669.1 L1355.2,667.6 L1357.8,666.0 L1360.3,664.5 L1362.9,663.0 L1365.5,661.5 L1368.1,659.9 L1370.6,658.4 L1373.2,656.9 L1375.8,655.3 L1378.3,653.8 L1380.9,652.3 L1383.5,650.7 L1386.1,649.2 L1388.6,647.7 L1391.2,646.1 L1393.8,644.6 L1396.3,643.1 L1398.9,641.5 L1401.5,640.0 L1404.1,638.5 L1406.6,637.0 L1409.2,635.4 L1411.8,633.9 L1414.3,632.4 L1416.9,630.8 L1419.5,629.3 L1422.1,627.8 L1424.6,626.2 L1427.2,624.7 L1429.8,623.1 L1432.3,621.6 L1434.9,620.1 L1437.5,618.5 L1440.1,617.0 L1442.6,615.5 L1445.2,613.9 L1447.8,612.4 L1450.4,610.9 L1452.9,609.3 L1455.5,607.8 L1458.1,606.3 L1460.6,604.7 L1463.2,603.2 L1465.8,601.7 L1468.4,600.1 L1470.9,598.6 L1473.5,597.0 L1476.1,595.5 L1478.6,594.0 L1481.2,592.4 L1483.8,590.9 L1486.4,589.4 L1488.9,587.8 L1491.5,586.3 L1494.1,584.7 L1496.6,583.2 L1499.2,581.7 L1501.8,580.1 L1504.4,578.6 L1506.9,577.1 L1509.5,575.5 L1512.1,574.0 L1514.6,572.4 L1517.2,570.9 L1519.8,569.4 L1522.4,567.8 L1524.9,566.3 L1527.5,564.7 L1530.1,563.2 L1532.7,561.7 L1535.2,560.1 L1537.8,558.6 L1540.4,557.0 L1542.9,555.5 L1545.5,554.0 L1548.1,552.4 L1550.7,550.9 L1553.2,549.3 L1555.8,547.8 L1558.4,546.3 L1561.0,544.7 L1563.5,543.2 L1566.1,541.6 L1568.7,540.1 L1571.3,538.5 L1573.8,537.0 L1576.4,535.5 L1579.0,533.9 L1581.6,532.4 L1584.1,530.8 L1586.7,529.3 L1589.3,527.7 L1591.9,526.2 L1594.4,524.7 L1597.0,523.1 L1599.6,521.6 L1602.2,520.0 L1604.7,518.5 L1607.3,516.9 L1609.9,515.4 L1612.5,513.9 L1615.0,512.3 L1617.6,510.8 L1620.2,509.2 L1622.8,507.7 L1625.3,506.1 L1627.9,504.6 L1630.5,503.0 L1633.1,501.5 L1635.6,499.9 L1638.2,498.4 L1640.8,496.9 L1643.4,495.3 L1645.9,493.8 L1648.5,492.2 L1651.1,490.7 L1653.7,489.1 L1656.3,487.6 L1658.8,486.0 L1661.4,484.5 L1664.0,482.9 L1666.6,481.4 L1669.1,479.8 L1671.7,478.3 L1674.3,476.7 L1676.9,475.2 L1679.5,473.6 L1682.0,472.1 L1684.6,470.5 L1687.2,469.0" fill="none" stroke="#008000" stroke-width="9.6" stroke-linejoin="round" stroke-linecap="butt"/>
</g>
<g shape-rendering="crispEdges"><rect x="342" y="62" width="686" height="342" fill="#000"/><rect x="345" y="64" width="681" height="338" fill="#fff"/></g>
<g shape-rendering="crispEdges">
<rect x="406" y="92" width="36" height="36" fill="#ff0000"/>
<rect x="406" y="174" width="36" height="36" fill="#0000ff"/>
<rect x="406" y="257" width="36" height="36" fill="#ffee00"/>
<rect x="406" y="340" width="36" height="36" fill="#008000"/>
</g>
<g font-family="'Liberation Sans', Arial, sans-serif" font-weight="bold" font-size="65.2" fill="#000">
<text transform="translate(516.3,132.7) scale(1,1.033)">Hexanal</text>
<text transform="translate(516.3,215.1) scale(1,1.033)">1-pentanol</text>
<text transform="translate(516.3,297.5) scale(1,1.033)">Dimethyl sulfide</text>
<text transform="translate(516.3,379.9) scale(1,1.033)">2-butanone</text>
</g>
<g font-family="'Liberation Sans', Arial, sans-serif" font-size="78.3" fill="#000">
<text transform="translate(229.2,1344.0) scale(1,1.017)" text-anchor="end">0.0</text>
<text transform="translate(229.2,1092.7) scale(1,1.017)" text-anchor="end">0.5</text>
<text transform="translate(229.2,841.3) scale(1,1.017)" text-anchor="end">1.0</text>
<text transform="translate(229.2,590.0) scale(1,1.017)" text-anchor="end">1.5</text>
<text transform="translate(229.2,338.6) scale(1,1.017)" text-anchor="end">2.0</text>
<text transform="translate(229.2,87.2) scale(1,1.017)" text-anchor="end">2.5</text>
<text transform="translate(270.5,1423.2) scale(1,1.017)" text-anchor="middle">0</text>
<text transform="translate(553.9,1423.2) scale(1,1.017)" text-anchor="middle">1</text>
<text transform="translate(837.3,1423.2) scale(1,1.017)" text-anchor="middle">2</text>
<text transform="translate(1120.7,1423.2) scale(1,1.017)" text-anchor="middle">3</text>
<text transform="translate(1404.1,1423.2) scale(1,1.017)" text-anchor="middle">4</text>
<text transform="translate(1687.5,1423.2) scale(1,1.017)" text-anchor="middle">5</text>
</g>
<g font-family="'Liberation Sans', Arial, sans-serif" font-weight="bold" fill="#000">
<text transform="translate(967.5,1538) scale(1,1.034)" text-anchor="middle" font-size="82.2">Dose, kGy</text>
<text transform="translate(84,693) rotate(-90) scale(1,1.034)" text-anchor="middle" font-size="83.2">Concentration, mg/kg</text>
</g>
</svg>
</body></html>
